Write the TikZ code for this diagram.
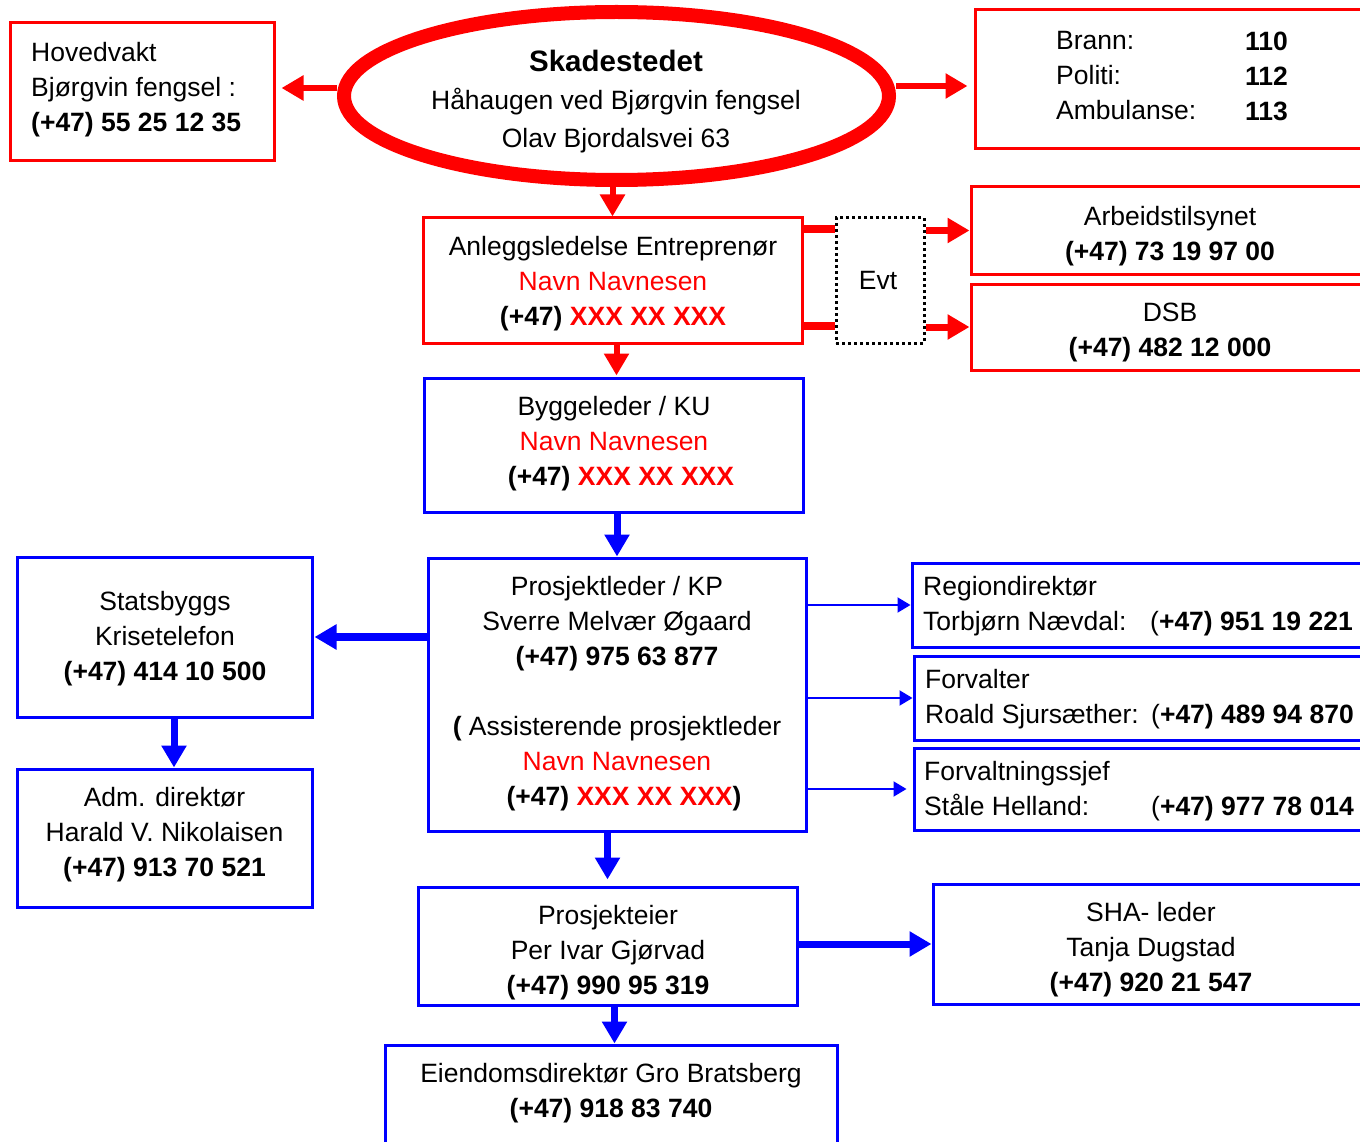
\documentclass[tikz,border=0pt]{standalone}
\usepackage{fontspec}
\setmainfont{Liberation Sans}
\usetikzlibrary{arrows.meta,shapes.geometric}
\definecolor{cred}{RGB}{255,0,0}
\definecolor{cblue}{RGB}{0,0,255}
\begin{document}
\begin{tikzpicture}[x=1pt,y=-1pt,
  txt/.style={font=\fontsize{26.5}{35}\selectfont, inner sep=0pt, align=center},
  ltxt/.style={txt, align=left, anchor=west},
  bx/.style n args={3}{draw=#1, line width=3pt, inner sep=0pt, minimum width=#2, minimum height=#3},
  rarr/.style={draw=cred, line width=6pt, -{Triangle[length=22pt,width=24pt]}},
  rline/.style={draw=cred, line width=8pt},
  barr/.style={draw=cblue, line width=7pt, -{Triangle[length=22pt,width=24pt]}},
  bthin/.style={draw=cblue, line width=2pt, -{Triangle[length=13pt,width=15pt]}},
]
\useasboundingbox (0,0) rectangle (1360,1142);
\clip (0,0) rectangle (1360,1142);
\fill[white] (0,0) rectangle (1360,1142);

% boxes
\node[bx={cred}{264pt}{138pt}] (hov) at (142,92) {};
\node[draw=cred, line width=14pt, ellipse, inner sep=0pt, minimum width=545pt, minimum height=168pt] (ell) at (616.5,96) {};
\node[bx={cred}{405pt}{139pt}] (brann) at (1177.5,79.5) {};
\node[bx={cred}{379pt}{125pt}] (anl) at (612.5,280.5) {};
\node[draw=black, line width=3pt, dash pattern=on 3pt off 3pt, inner sep=0pt, minimum width=88pt, minimum height=125pt] (evt) at (880,280.5) {};
\node[bx={cred}{409pt}{87pt}] (arb) at (1175.5,230.5) {};
\node[bx={cred}{409pt}{86pt}] (dsb) at (1175.5,327) {};
\node[bx={cblue}{379pt}{134pt}] (byg) at (613.5,445) {};
\node[bx={cblue}{378pt}{273pt}] (pl) at (617,694.5) {};
\node[bx={cblue}{295pt}{160pt}] (stat) at (164.5,637) {};
\node[bx={cblue}{295pt}{138pt}] (adm) at (164.5,838) {};
\node[bx={cblue}{468pt}{84pt}] (reg) at (1146,605) {};
\node[bx={cblue}{466pt}{84pt}] (forv) at (1147,698) {};
\node[bx={cblue}{466pt}{82pt}] (fsj) at (1147,789) {};
\node[bx={cblue}{379pt}{118pt}] (pe) at (607.5,946) {};
\node[bx={cblue}{447pt}{120pt}] (sha) at (1156.5,944) {};
\node[bx={cblue}{452pt}{115pt}] (eie) at (611,1102.5) {};

% texts
\node[ltxt] (thov) at (31,89.5) {Hovedvakt\\Bjørgvin fengsel :\\\textbf{(+47) 55 25 12 35}};
\node[txt, font=\fontsize{26.5}{38}\selectfont] (tell) at (616,102) {{\fontsize{29.5}{38}\selectfont\textbf{Skadestedet}}\\Håhaugen ved Bjørgvin fengsel\\Olav Bjordalsvei 63};
\node[ltxt] (tbr1) at (1056,76) {Brann:\\Politi:\\Ambulanse:};
\node[ltxt] (tbr2) at (1245,76) {\textbf{110}\\\textbf{112}\\\textbf{113}};
\node[txt] (tanl) at (613,283.5) {Anleggsledelse Entreprenør\\\textcolor{cred}{Navn Navnesen}\\\textbf{(+47) \textcolor{cred}{XXX XX XXX}}};
\node[txt] (tevt) at (878,280) {Evt};
\node[txt] (tarb) at (1170,236.5) {Arbeidstilsynet\\\textbf{(+47) 73 19 97 00}};
\node[txt] (tdsb) at (1170,332.5) {DSB\\\textbf{(+47) 482 12 000}};
\node[txt] (tbyg) at (614,443.5) {Byggeleder / KU\\\textcolor{cred}{Navn Navnesen}\\\hspace*{14pt}\textbf{(+47) \textcolor{cred}{XXX XX XXX}}};
\node[txt] (tpl) at (617,693.5) {Prosjektleder / KP\\Sverre Melvær Øgaard\\\textbf{(+47) 975 63 877}\\[35pt]\textbf{(} Assisterende prosjektleder\\\textcolor{cred}{Navn Navnesen}\\\hspace*{14pt}\textbf{(+47) \textcolor{cred}{XXX XX XXX})}};
\node[txt] (tstat) at (165,638.5) {Statsbyggs\\Krisetelefon\\\textbf{(+47) 414 10 500}};
\node[txt] (tadm) at (164.5,834.5) {Adm. direktør\\Harald V. Nikolaisen\\\textbf{(+47) 913 70 521}};
\node[ltxt] (treg) at (923,606.5) {Regiondirektør\\\makebox[227pt][l]{Torbjørn Nævdal:}(\textbf{+47) 951 19 221}};
\node[ltxt] (tforv) at (925,699.5) {Forvalter\\\makebox[226pt][l]{Roald Sjursæther:}(\textbf{+47) 489 94 870}};
\node[ltxt] (tfsj) at (924,791) {Forvaltningssjef\\\makebox[227pt][l]{Ståle Helland:}(\textbf{+47) 977 78 014}};
\node[txt] (tpe) at (608,952.5) {Prosjekteier\\Per Ivar Gjørvad\\\textbf{(+47) 990 95 319}};
\node[txt] (tsha) at (1151,949.5) {SHA- leder\\Tanja Dugstad\\\textbf{(+47) 920 21 547}};
\node[txt] (teie) at (611,1093.5) {Eiendomsdirektør Gro Bratsberg\\\textbf{(+47) 918 83 740}};

% connectors
\draw[rarr, shorten >=6pt] ([yshift=8pt]ell.west) -- ([yshift=8pt]ell.west -| hov.east);
\draw[rarr, shorten >=6pt] ([yshift=10pt]ell.east) -- ([yshift=10pt]ell.east -| brann.west);
\draw[rarr] (ell.south -| anl.north) -- (anl.north);
\draw[rarr, shorten >=1pt] ([xshift=4pt]anl.south) -- ([xshift=4pt]anl.south |- byg.north);
\draw[rline] ([yshift=51.5pt]anl.east) -- ([yshift=51.5pt]evt.west);
\draw[rline] ([yshift=-45.5pt]anl.east) -- ([yshift=-45.5pt]evt.west);
\draw[rarr, line width=7pt] (arb.west -| evt.east) -- (arb.west);
\draw[rarr, line width=7pt] (dsb.west -| evt.east) -- (dsb.west);
\draw[barr] (byg.south -| pl.north) -- (pl.north);
\draw[barr, line width=8pt, shorten >=1pt] (stat.east -| pl.west) -- (stat.east);
\draw[barr] ([xshift=9.5pt]stat.south) -- ([xshift=9.5pt]adm.north);
\draw[bthin] (reg.west -| pl.east) -- (reg.west);
\draw[bthin] (forv.west -| pl.east) -- (forv.west);
\draw[bthin, shorten >=6pt] (fsj.west -| pl.east) -- (fsj.west);
\draw[barr, shorten >=6pt] (pl.south -| pe.north) -- (pe.north);
\draw[barr] (pe.east |- sha.west) -- (sha.west);
\draw[barr] ([xshift=7pt]pe.south) -- ([xshift=7pt]pe.south |- eie.north);
\end{tikzpicture}
\end{document}
